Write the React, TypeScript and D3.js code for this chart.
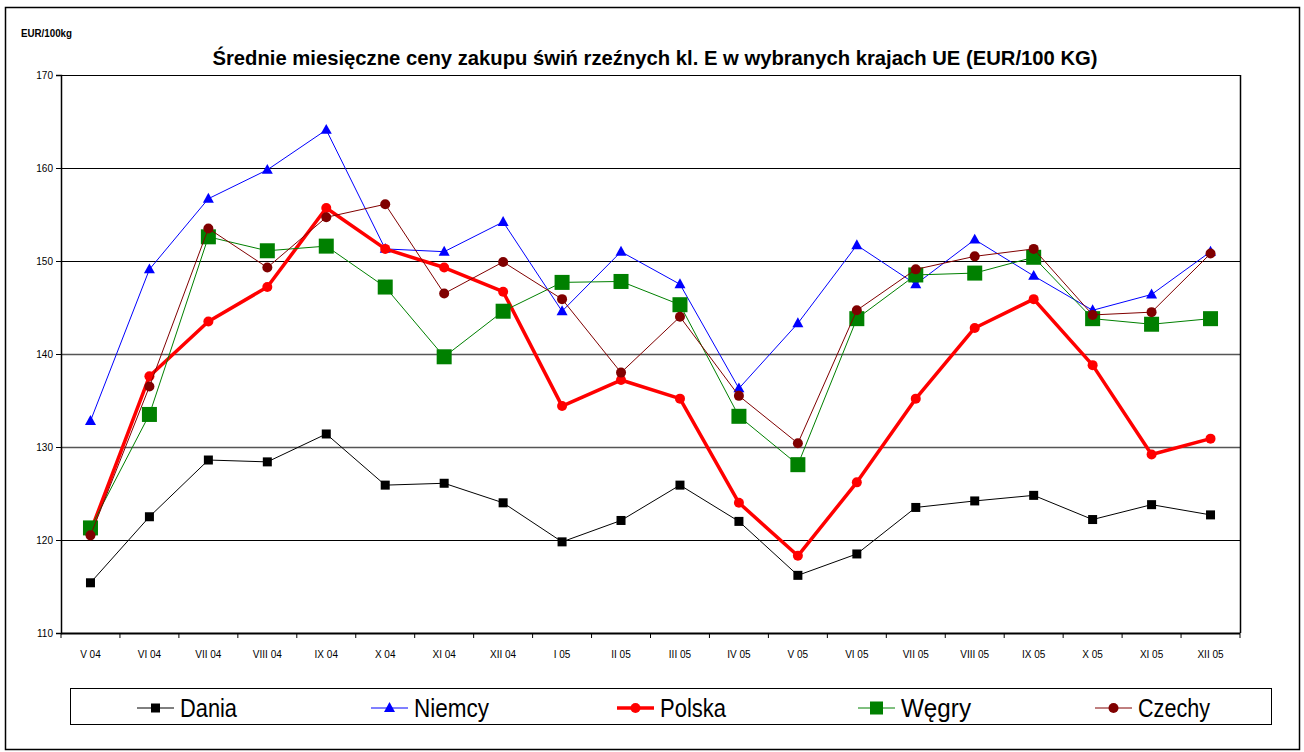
import React, { useEffect, useRef } from "react";
import * as d3 from "d3";

// months on the x axis
const months = [
  "V 04", "VI 04", "VII 04", "VIII 04", "IX 04", "X 04", "XI 04", "XII 04",
  "I 05", "II 05", "III 05", "IV 05", "V 05", "VI 05", "VII 05", "VIII 05",
  "IX 05", "X 05", "XI 05", "XII 05",
];

// prices EUR/100kg
const dania = [115.4, 122.5, 128.6, 128.4, 131.4, 125.9, 126.1, 124.0, 119.8, 122.1, 125.9, 122.0, 116.2, 118.5, 123.5, 124.2, 124.8, 122.2, 123.8, 122.7];
const niemcy = [132.8, 149.1, 156.7, 159.8, 164.1, 151.3, 151.0, 154.2, 144.6, 151.0, 147.5, 136.3, 143.3, 151.7, 147.5, 152.3, 148.4, 144.7, 146.4, 151.0];
const polska = [120.9, 137.6, 143.5, 147.2, 155.7, 151.3, 149.3, 146.7, 134.4, 137.2, 135.2, 124.0, 118.3, 126.2, 135.2, 142.8, 145.9, 138.8, 129.2, 130.9];
const wegry = [121.3, 133.5, 152.6, 151.1, 151.6, 147.2, 139.7, 144.6, 147.7, 147.8, 145.3, 133.3, 128.1, 143.8, 148.5, 148.7, 150.4, 143.8, 143.2, 143.8];
const czechy = [120.5, 136.5, 153.5, 149.3, 154.7, 156.1, 146.5, 149.9, 145.9, 138.0, 144.0, 135.5, 130.4, 144.7, 149.1, 150.5, 151.3, 144.2, 144.5, 150.8];

const yTicks = [110, 120, 130, 140, 150, 160, 170];

const seriesNames = ["Dania", "Niemcy", "Polska", "Węgry", "Czechy"];

const title = "Średnie miesięczne ceny zakupu świń rzeźnych kl. E w wybranych krajach UE (EUR/100 KG)";
const unitLabel = "EUR/100kg";

const styles = [
  { color: "#000000", width: 1, marker: "square", size: 9 },
  { color: "#0000ff", width: 1, marker: "triangle", size: 11 },
  { color: "#ff0000", width: 3.5, marker: "circle", size: 5 },
  { color: "#008000", width: 1, marker: "square", size: 15 },
  { color: "#800000", width: 1, marker: "circle", size: 5 },
];

const font = "'Liberation Sans', Arial, sans-serif";

function drawMarker(g, type, size, color, x, y) {
  if (type === "square") {
    g.append("rect")
      .attr("x", x - size / 2)
      .attr("y", y - size / 2)
      .attr("width", size)
      .attr("height", size)
      .attr("fill", color);
  } else if (type === "triangle") {
    const h = size * 0.9;
    g.append("path")
      .attr("d", `M${x},${y - h * 0.6}L${x + size / 2},${y + h * 0.4}L${x - size / 2},${y + h * 0.4}Z`)
      .attr("fill", color);
  } else {
    g.append("circle").attr("cx", x).attr("cy", y).attr("r", size).attr("fill", color);
  }
}

function Chart() {
  const ref = useRef(null);

  useEffect(() => {
    const w = 1304;
    const h = 752;
    const left = 61;
    const right = 1240;
    const top = 75;
    const bottom = 633;

    const svg = d3.select(ref.current);
    svg.selectAll("*").remove();
    svg.attr("width", w).attr("height", h);

    svg.append("rect").attr("width", w).attr("height", h).attr("fill", "#fff");

    // outer frame
    svg.append("rect")
      .attr("x", 5.5).attr("y", 7.5)
      .attr("width", 1294).attr("height", 742)
      .attr("fill", "none").attr("stroke", "#000").attr("stroke-width", 1.5);

    const xScale = d3.scaleBand().domain(months).range([left, right]);
    const yScale = d3.scaleLinear().domain([110, 170]).range([bottom, top]);
    const cx = (i) => xScale(months[i]) + xScale.bandwidth() / 2;

    // gridlines
    svg.append("g")
      .selectAll("line")
      .data(yTicks)
      .join("line")
      .attr("x1", left).attr("x2", right)
      .attr("y1", (d) => yScale(d) + 0.5).attr("y2", (d) => yScale(d) + 0.5)
      .attr("stroke", (d) => (d === 130 || d === 140 ? "#555" : "#000"))
      .attr("stroke-width", (d) => (d === 130 || d === 140 ? 1.5 : 1));

    // plot area border
    svg.append("line")
      .attr("x1", right + 0.5).attr("x2", right + 0.5)
      .attr("y1", top).attr("y2", bottom)
      .attr("stroke", "#000").attr("stroke-width", 1.5);

    // y axis
    const yAxis = d3.axisLeft(yScale).tickValues(yTicks).tickSize(5).tickPadding(3);
    const gy = svg.append("g").attr("transform", `translate(${left},0)`).call(yAxis);
    gy.select(".domain").attr("stroke-width", 1.5);
    gy.selectAll("text").attr("font-family", font).attr("font-size", 10).attr("fill", "#000");

    // x axis: ticks between categories
    svg.append("line")
      .attr("x1", left).attr("x2", right)
      .attr("y1", bottom + 0.5).attr("y2", bottom + 0.5)
      .attr("stroke", "#000").attr("stroke-width", 2);
    const edges = months.map((m) => xScale(m)).concat([right]);
    svg.append("g")
      .selectAll("line")
      .data(edges)
      .join("line")
      .attr("x1", (d) => d).attr("x2", (d) => d)
      .attr("y1", bottom).attr("y2", bottom + 5)
      .attr("stroke", "#000");
    svg.append("g")
      .selectAll("text")
      .data(months)
      .join("text")
      .attr("x", (d, i) => cx(i))
      .attr("y", 658)
      .attr("text-anchor", "middle")
      .attr("font-family", font)
      .attr("font-size", 10)
      .attr("fill", "#000")
      .text((d) => d);

    // series
    const allSeries = [dania, niemcy, polska, wegry, czechy];
    const line = d3.line().x((d, i) => cx(i)).y((d) => yScale(d));
    allSeries.forEach((values, s) => {
      const st = styles[s];
      const g = svg.append("g");
      g.append("path")
        .attr("d", line(values))
        .attr("fill", "none")
        .attr("stroke", st.color)
        .attr("stroke-width", st.width)
        .attr("stroke-linejoin", "round");
      values.forEach((v, i) => drawMarker(g, st.marker, st.size, st.color, cx(i), yScale(v)));
    });

    // titles
    svg.append("text")
      .attr("x", 655).attr("y", 65)
      .attr("text-anchor", "middle")
      .attr("font-family", font)
      .attr("font-weight", "bold")
      .attr("font-size", 21)
      .attr("textLength", 885)
      .attr("lengthAdjust", "spacingAndGlyphs")
      .text(title);
    svg.append("text")
      .attr("x", 21).attr("y", 37)
      .attr("font-family", font)
      .attr("font-weight", "bold")
      .attr("font-size", 10)
      .attr("textLength", 51)
      .attr("lengthAdjust", "spacingAndGlyphs")
      .text(unitLabel);

    // legend
    svg.append("rect")
      .attr("x", 70.5).attr("y", 688.5)
      .attr("width", 1201).attr("height", 36)
      .attr("fill", "#fff").attr("stroke", "#000").attr("stroke-width", 1);
    const legendX = [137, 371, 617, 858, 1095];
    const legendW = [57, 75, 66, 70, 72];
    seriesNames.forEach((name, s) => {
      const st = styles[s];
      const g = svg.append("g");
      const x0 = legendX[s];
      const ly = 708;
      g.append("line")
        .attr("x1", x0).attr("x2", x0 + 37)
        .attr("y1", ly).attr("y2", ly)
        .attr("stroke", st.color).attr("stroke-width", st.width);
      drawMarker(g, st.marker, st.marker === "square" && s === 3 ? 13 : st.size, st.color, x0 + 18.5, ly);
      g.append("text")
        .attr("x", x0 + 43).attr("y", 717)
        .attr("font-family", font)
        .attr("font-size", 26)
        .attr("textLength", legendW[s])
        .attr("lengthAdjust", "spacingAndGlyphs")
        .text(name);
    });
  }, []);

  return <svg ref={ref} style={{ position: "absolute", left: 0, top: 0 }} />;
}

export default function App() {
  return <Chart />;
}
